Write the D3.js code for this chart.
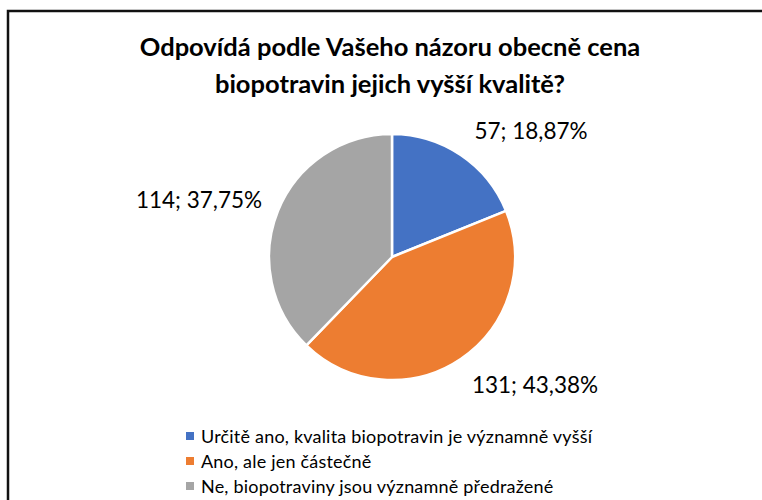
<!DOCTYPE html>
<html><head><meta charset="utf-8">
<script src="https://cdn.jsdelivr.net/npm/d3@7"></script>
<style>body{margin:0;background:#fff}svg{display:block}text{font-family:Lato,"Open Sans",sans-serif;fill:#000}</style>
</head><body>
<svg id="c" width="762" height="500"></svg>
<script>
const categories = ["Určitě ano, kvalita biopotravin je významně vyšší","Ano, ale jen částečně","Ne, biopotraviny jsou významně předražené"];
const values = [57, 131, 114];
const percentLabels = ["18,87%","43,38%","37,75%"];
const colors = ["#4472C4","#ED7D31","#A5A5A5"];
const titleLines = ["Odpovídá podle Vašeho názoru obecně cena","biopotravin jejich vyšší kvalitě?"];

const svg = d3.select("#c");
svg.append("path").attr("d","M8,520 L8,11 L780,11").attr("fill","none").attr("stroke","#111").attr("stroke-width",2.5);

svg.selectAll("text.title").data(titleLines).enter().append("text")
  .attr("class","title").attr("x",390).attr("y",(d,i)=>56+i*37)
  .attr("text-anchor","middle").style("font-weight","700").style("font-size","25.5px").text(d=>d);

const cx=392, cy=257, r=123;
const pie = d3.pie().sort(null).value(d=>d)(values);
const arc = d3.arc().innerRadius(0).outerRadius(r);
const g = svg.append("g").attr("transform",`translate(${cx},${cy})`);
g.selectAll("path").data(pie).enter().append("path")
  .attr("d",arc).attr("fill",(d,i)=>colors[i]).attr("stroke","#fff").attr("stroke-width",2.5).attr("stroke-linejoin","round");

const labelPos = [[531,139],[535,393],[199,208]];
svg.selectAll("text.lab").data(pie).enter().append("text").attr("class","lab")
  .attr("x",(d,i)=>labelPos[i][0]).attr("y",(d,i)=>labelPos[i][1])
  .attr("text-anchor","middle").style("font-size","22.5px")
  .text((d,i)=>values[i]+"; "+percentLabels[i]);

const leg = svg.selectAll("g.leg").data(categories).enter().append("g").attr("class","leg")
  .attr("transform",(d,i)=>`translate(186,${437+i*25})`);
leg.append("rect").attr("x",0).attr("y",-5).attr("width",8).attr("height",8).attr("fill",(d,i)=>colors[i]);
leg.append("text").attr("x",15).attr("y",6).style("font-size","18px").style("letter-spacing","0.2px").text(d=>d);
</script>
</body></html>
